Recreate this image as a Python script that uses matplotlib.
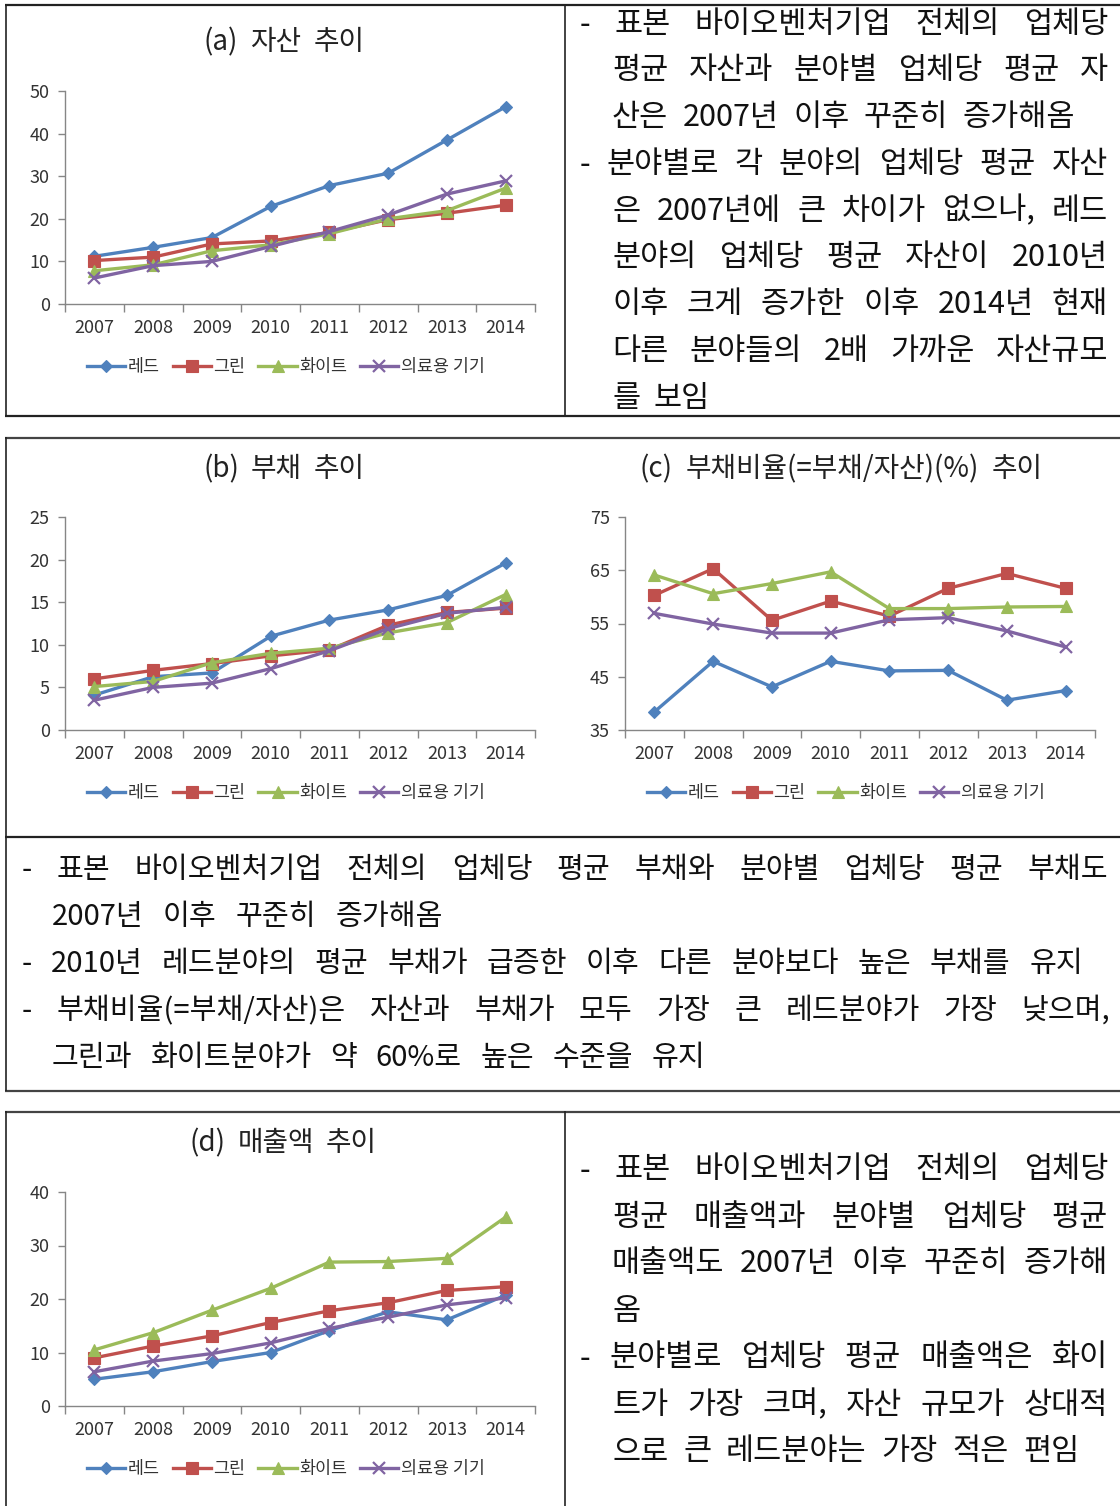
import matplotlib
matplotlib.use('Agg')
import matplotlib.pyplot as plt
from matplotlib.ticker import FixedLocator, NullFormatter

plt.rcParams['font.family'] = ['Noto Sans CJK KR', 'DejaVu Sans']

# Data
years = ['2007', '2008', '2009', '2010', '2011', '2012', '2013', '2014']
series_names = ['레드', '그린', '화이트', '의료용 기기']

assets_red = [11.2, 13.3, 15.6, 22.9, 27.8, 30.7, 38.5, 46.3]
assets_green = [10.2, 11.0, 14.1, 14.8, 16.8, 19.8, 21.3, 23.2]
assets_white = [7.8, 9.2, 12.5, 13.9, 16.5, 20.0, 21.9, 27.2]
assets_medical = [6.1, 9.0, 10.0, 13.5, 17.0, 20.9, 25.8, 28.9]

debt_red = [4.1, 6.25, 6.7, 11.0, 12.9, 14.1, 15.8, 19.6]
debt_green = [6.0, 7.0, 7.8, 8.7, 9.4, 12.3, 13.8, 14.3]
debt_white = [5.1, 5.7, 7.9, 9.0, 9.6, 11.4, 12.6, 15.9]
debt_medical = [3.5, 5.0, 5.5, 7.2, 9.3, 11.9, 13.7, 14.4]

ratio_red = [38.4, 47.9, 43.1, 47.9, 46.1, 46.2, 40.6, 42.4]
ratio_green = [60.3, 65.3, 55.6, 59.2, 56.4, 61.6, 64.4, 61.6]
ratio_white = [64.1, 60.6, 62.5, 64.7, 57.8, 57.8, 58.1, 58.2]
ratio_medical = [56.9, 54.9, 53.2, 53.2, 55.7, 56.1, 53.6, 50.6]

sales_red = [5.0, 6.4, 8.3, 10.0, 14.1, 17.6, 16.1, 20.7]
sales_green = [9.0, 11.2, 13.1, 15.6, 17.8, 19.3, 21.6, 22.3]
sales_white = [10.5, 13.7, 17.9, 22.0, 26.9, 27.0, 27.6, 35.3]
sales_medical = [6.4, 8.4, 9.8, 11.8, 14.5, 16.6, 18.9, 20.2]

colors = ['#4F81BD', '#C0504D', '#9BBB59', '#8064A2']
markers = ['D', 's', '^', 'x']
msizes = [6.5, 8, 8.5, 8.5]

W, H = 1120, 1506
fig = plt.figure(figsize=(W / 100, H / 100), dpi=100)

# background axes in pixel coordinates for boxes and text
bg = fig.add_axes([0, 0, 1, 1])
bg.set_xlim(0, W)
bg.set_ylim(H, 0)
bg.axis('off')


def hline(y, x0, x1, lw=1.6, c='#222222'):
    bg.plot([x0, x1], [y, y], color=c, lw=lw, solid_capstyle='butt')


def vline(x, y0, y1, lw=1.2, c='#222222'):
    bg.plot([x, x], [y0, y1], color=c, lw=lw, solid_capstyle='butt')


# box 1
hline(4.5, 5, W)
hline(415.5, 5, W)
vline(5.5, 4, 416)
vline(564.5, 4, 416)
# box 2
hline(437.5, 5, W, c='#444444')
hline(836.5, 5, W)
hline(1090.5, 5, W, c='#444444')
vline(5.5, 437, 1091)
# box 3
hline(1111.5, 5, W, c='#444444')
vline(5.5, 1111, H)
vline(564.5, 1111, H)


def make_chart(px, series, ylim, yticks):
    x0, x1, ytop, ybot = px
    ax = fig.add_axes([x0 / W, 1 - ybot / H, (x1 - x0) / W, (ybot - ytop) / H])
    xs = list(range(len(years)))
    for vals, name, c, m, ms in zip(series, series_names, colors, markers, msizes):
        ax.plot(xs, vals, color=c, lw=2.4, marker=m, markersize=ms,
                markeredgewidth=1.6 if m == 'x' else 0.8, markeredgecolor=c,
                markerfacecolor=c, label=name, clip_on=False)
    ax.set_xlim(-0.5, len(years) - 0.5)
    ax.set_ylim(*ylim)
    ax.set_yticks(yticks)
    ax.set_xticks(xs)
    ax.set_xticklabels(years)
    ax.xaxis.set_minor_locator(FixedLocator([i - 0.5 for i in range(len(years) + 1)]))
    ax.xaxis.set_minor_formatter(NullFormatter())
    ax.tick_params(axis='x', which='major', length=0, pad=11, labelsize=13, labelcolor='#333333')
    ax.tick_params(axis='x', which='minor', length=6, width=1, color='#868686', direction='out')
    ax.tick_params(axis='y', length=5, width=1, color='#868686', direction='out', pad=6,
                   labelsize=13, labelcolor='#333333')
    for s in ['top', 'right']:
        ax.spines[s].set_visible(False)
    for s in ['left', 'bottom']:
        ax.spines[s].set_color('#868686')
        ax.spines[s].set_linewidth(1)
    ax.set_facecolor('none')
    leg_y = -63 / (ybot - ytop)
    ax.legend(loc='center', bbox_to_anchor=(0.47, leg_y), ncol=4, frameon=False,
              fontsize=12.5, handlelength=2.2, handletextpad=0.15, columnspacing=0.75,
              labelcolor='#333333')
    return ax


make_chart((65, 535, 91, 304),
           [assets_red, assets_green, assets_white, assets_medical],
           (0, 50), [0, 10, 20, 30, 40, 50])
make_chart((65, 535, 517, 730),
           [debt_red, debt_green, debt_white, debt_medical],
           (0, 25), [0, 5, 10, 15, 20, 25])
make_chart((625, 1095, 517, 730),
           [ratio_red, ratio_green, ratio_white, ratio_medical],
           (35, 75), [35, 45, 55, 65, 75])
make_chart((65, 535, 1192, 1406),
           [sales_red, sales_green, sales_white, sales_medical],
           (0, 40), [0, 10, 20, 30, 40])

fig.canvas.draw()
renderer = fig.canvas.get_renderer()


def place_line(line, x0, x1, y, size, color='#111111'):
    # spread the words of one line between x0 and x1 (justified text)
    words = line.split(' ')
    ts = [bg.text(0, y, w, ha='left', va='center', fontsize=size, color=color)
          for w in words]
    widths = [t.get_window_extent(renderer).width for t in ts]
    gap = (x1 - x0 - sum(widths)) / max(len(words) - 1, 1)
    x = x0
    for t, w in zip(ts, widths):
        t.set_x(x)
        x += w + gap


titles = [
    ('(a) 자산 추이', 203, 365, 42),
    ('(b) 부채 추이', 203, 365, 469),
    ('(c) 부채비율(=부채/자산)(%) 추이', 640, 1043, 469),
    ('(d) 매출액 추이', 190, 377, 1143),
]
for line, xa, xb, yc in titles:
    place_line(line, xa, xb, yc, 20, '#222222')

# text lines: (text, x start, x end, y centre)
box1_lines = [
    ('- 표본 바이오벤처기업 전체의 업체당', 580, 1108, 24),
    ('평균 자산과 분야별 업체당 평균 자', 612, 1108, 70),
    ('산은 2007년 이후 꾸준히 증가해옴', 612, 1075, 117),
    ('- 분야별로 각 분야의 업체당 평균 자산', 580, 1108, 164),
    ('은 2007년에 큰 차이가 없으나, 레드', 612, 1108, 211),
    ('분야의 업체당 평균 자산이 2010년', 612, 1108, 257),
    ('이후 크게 증가한 이후 2014년 현재', 612, 1108, 304),
    ('다른 분야들의 2배 가까운 자산규모', 612, 1108, 351),
    ('를 보임', 612, 710, 398),
]
box2_lines = [
    ('- 표본 바이오벤처기업 전체의 업체당 평균 부채와 분야별 업체당 평균 부채도', 22, 1108, 870),
    ('2007년 이후 꾸준히 증가해옴', 52, 443, 917),
    ('- 2010년 레드분야의 평균 부채가 급증한 이후 다른 분야보다 높은 부채를 유지', 22, 1083, 964),
    ('- 부채비율(=부채/자산)은 자산과 부채가 모두 가장 큰 레드분야가 가장 낮으며,', 22, 1110, 1011),
    ('그린과 화이트분야가 약 60%로 높은 수준을 유지', 52, 705, 1058),
]
box3_lines = [
    ('- 표본 바이오벤처기업 전체의 업체당', 580, 1108, 1170),
    ('평균 매출액과 분야별 업체당 평균', 612, 1108, 1217),
    ('매출액도 2007년 이후 꾸준히 증가해', 612, 1108, 1264),
    ('옴', 612, 640, 1311),
    ('- 분야별로 업체당 평균 매출액은 화이', 580, 1108, 1358),
    ('트가 가장 크며, 자산 규모가 상대적', 612, 1108, 1405),
    ('으로 큰 레드분야는 가장 적은 편임', 612, 1080, 1452),
]

for line, xa, xb, yc in box1_lines + box3_lines:
    place_line(line, xa, xb, yc, 22)
for line, xa, xb, yc in box2_lines:
    place_line(line, xa, xb, yc, 21)

fig.savefig('out.png', dpi=100)
